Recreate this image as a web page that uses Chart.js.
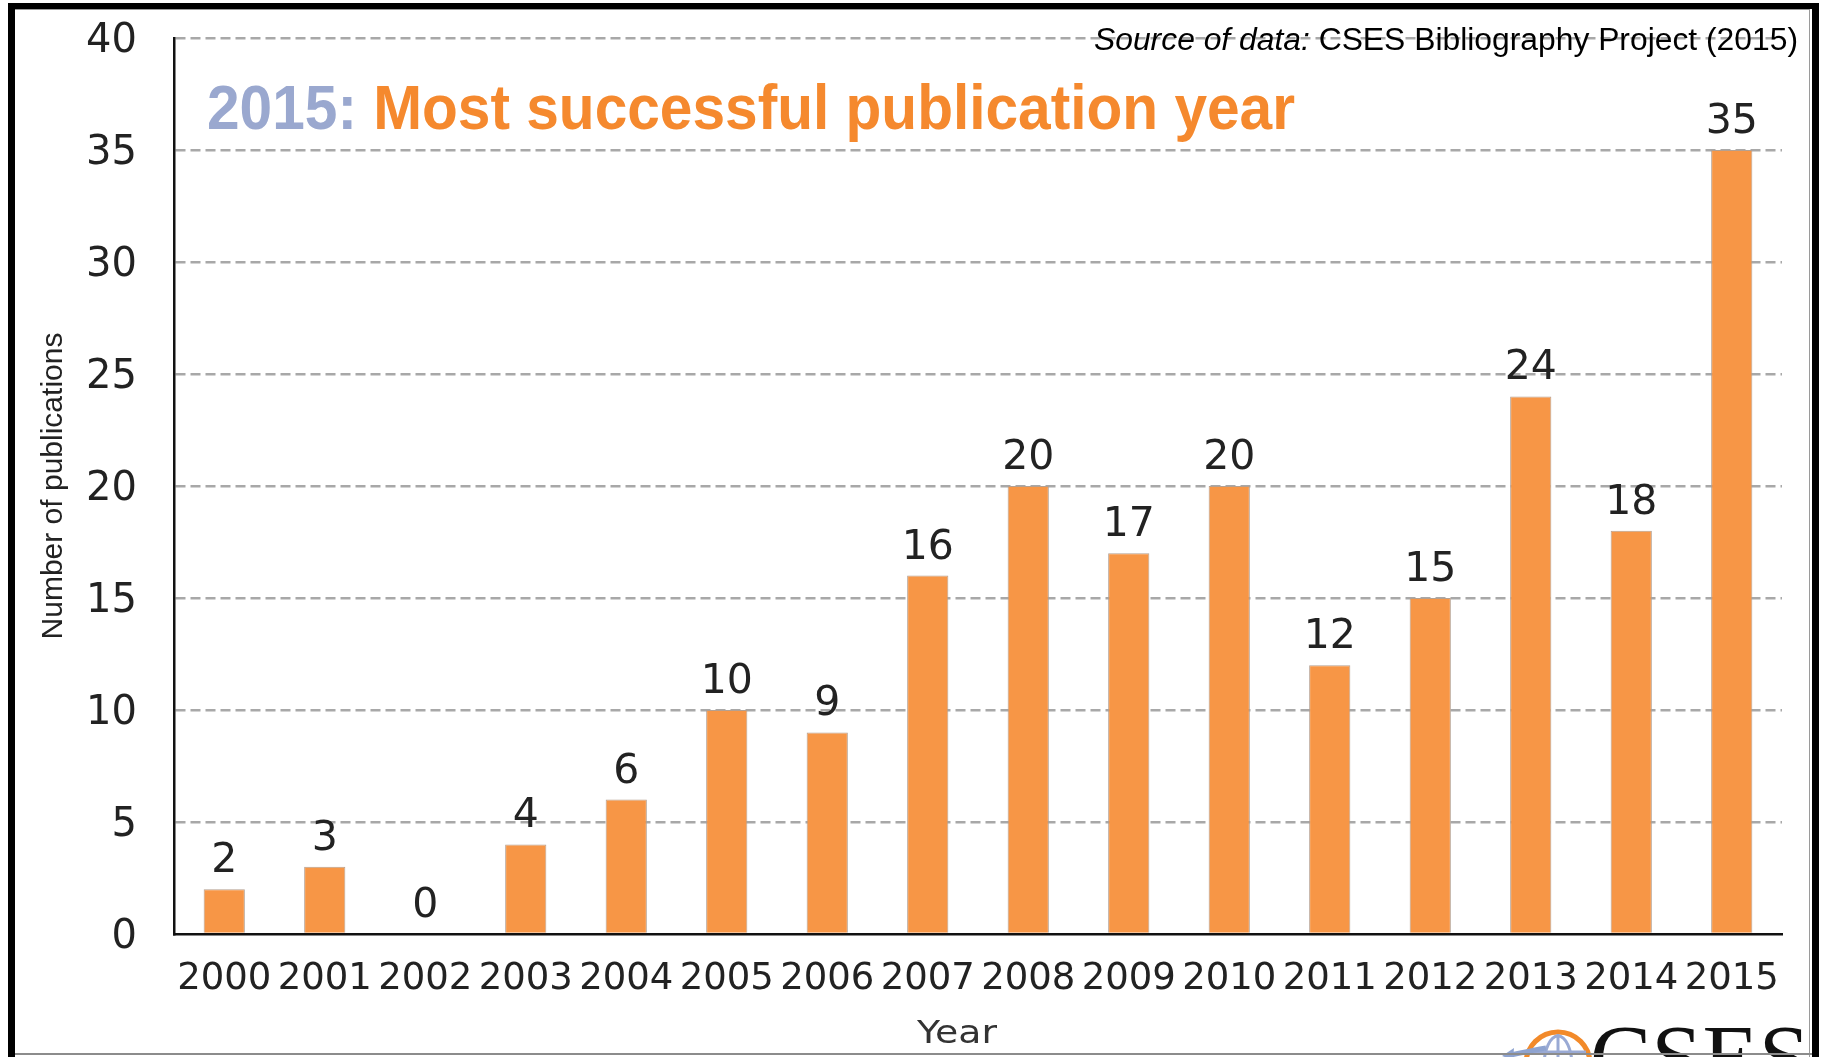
<!DOCTYPE html>
<html>
<head>
<meta charset="utf-8">
<title>CSES publications per year</title>
<script src="https://cdn.jsdelivr.net/npm/chart.js@4.4.1/dist/chart.umd.min.js"></script>
<style>
  html, body { margin: 0; padding: 0; background: #fff; }
  body { width: 1824px; height: 1057px; position: relative; overflow: hidden; }
  #chart { position: absolute; left: 0; top: 0; }
  .frame {
    position: absolute; left: 8px; top: 3px; width: 1797px; height: 1100px;
    border: 7px solid #000; border-top-width: 6px; border-bottom: none;
    pointer-events: none;
  }
  .frame-inner {
    position: absolute; left: 0; top: 0; right: 2px; bottom: 0;
    border-top: 1px solid #9a9a9a; border-right: 1px solid #9a9a9a;
  }
  .bottom-line { position: absolute; left: 15px; top: 1053px; width: 1797px; height: 2px; background: #8c8c8c; }
  .logo-text {
    position: absolute; left: 1590px; top: 1011px;
    font: 92px/1 "Liberation Serif", "Times New Roman", serif; color: #111;
  }
  .logo-globe { position: absolute; left: 1498px; top: 1022px; }
</style>
</head>
<body>
<canvas id="chart" width="1824" height="1057"></canvas>
<div class="frame"><div class="frame-inner"></div></div>
<svg class="logo-globe" width="100" height="40" viewBox="0 0 100 40">
  <circle cx="60" cy="42" r="32" fill="none" stroke="#f28a2a" stroke-width="5"/>
  <ellipse cx="60" cy="44" rx="14" ry="30" fill="none" stroke="#9aaad4" stroke-width="3"/>
  <line x1="60" y1="12" x2="60" y2="40" stroke="#9aaad4" stroke-width="3"/>
  <line x1="32" y1="30" x2="88" y2="30" stroke="#9aaad4" stroke-width="3"/>
  <path d="M48 26 C36 28 22 31 12 33" fill="none" stroke="#8ea3d0" stroke-width="5"/>
  <path d="M4 34 L16 26 L15 38 Z" fill="#8ea3d0"/>
</svg>
<div class="logo-text">CSES</div>
<div class="bottom-line"></div>

<script>
const years = ["2000", "2001", "2002", "2003", "2004", "2005", "2006", "2007",
               "2008", "2009", "2010", "2011", "2012", "2013", "2014", "2015"];
const publications = [2, 3, 0, 4, 6, 10, 9, 16, 20, 17, 20, 12, 15, 24, 18, 35];

const yMin = 0;
const yMax = 40;
const yStep = 5;

const titleLead = "2015:";
const titleMain = " Most successful publication year";
const sourceItalic = "Source of data:";
const sourceRest = " CSES Bibliography Project (2015)";
const xTitle = "Year";

const BAR_COLOR = "#f79646";

// value labels above each bar
const valueLabels = {
  id: "valueLabels",
  afterDatasetsDraw(chart) {
    const ctx = chart.ctx;
    const meta = chart.getDatasetMeta(0);
    ctx.save();
    ctx.font = '41px "DejaVu Sans", sans-serif';
    ctx.fillStyle = "#222";
    ctx.textAlign = "center";
    ctx.textBaseline = "alphabetic";
    meta.data.forEach((bar, i) => {
      ctx.fillText(String(publications[i]), bar.x, bar.y - 17);
    });
    ctx.restore();
  }
};

// y tick labels, centred on the digits rather than the em box
const yLabels = {
  id: "yLabels",
  afterDraw(chart) {
    const ctx = chart.ctx;
    const y = chart.scales.y;
    ctx.save();
    ctx.font = '40px "DejaVu Sans", sans-serif';
    ctx.fillStyle = "#222";
    ctx.textAlign = "right";
    ctx.textBaseline = "alphabetic";
    y.ticks.forEach((t) => {
      ctx.fillText(String(t.value), y.right - 37, y.getPixelForValue(t.value) + 14);
    });
    ctx.restore();
  }
};

// headline, source note, x axis title
const headline = {
  id: "headline",
  afterDraw(chart) {
    const ctx = chart.ctx;
    ctx.save();
    ctx.font = 'bold 63px "Liberation Sans", Arial, sans-serif';
    const w1 = ctx.measureText(titleLead).width;
    const w2 = ctx.measureText(titleMain).width;
    ctx.translate(207, 129);
    ctx.scale(1088 / (w1 + w2), 1);
    ctx.fillStyle = "#9aa8cf";
    ctx.fillText(titleLead, 0, 0);
    ctx.fillStyle = "#f5892e";
    ctx.fillText(titleMain, w1, 0);
    ctx.restore();

    ctx.save();
    ctx.font = 'italic 31px "Liberation Sans", Arial, sans-serif';
    const s1 = ctx.measureText(sourceItalic).width;
    ctx.font = '31px "Liberation Sans", Arial, sans-serif';
    const s2 = ctx.measureText(sourceRest).width;
    const sx = 704 / (s1 + s2);
    ctx.translate(1798 - 704, 50);
    ctx.scale(sx, 1);
    ctx.fillStyle = "#000";
    ctx.font = 'italic 31px "Liberation Sans", Arial, sans-serif';
    ctx.fillText(sourceItalic, 0, 0);
    ctx.font = '31px "Liberation Sans", Arial, sans-serif';
    ctx.fillText(sourceRest, s1, 0);
    ctx.restore();

    ctx.save();
    ctx.font = '32px "DejaVu Sans", sans-serif';
    ctx.fillStyle = "#333";
    ctx.textAlign = "center";
    ctx.translate(957, 1043);
    ctx.scale(1.18, 1);
    ctx.fillText(xTitle, 0, 0);
    ctx.restore();
  }
};

new Chart(document.getElementById("chart"), {
  type: "bar",
  data: {
    labels: years,
    datasets: [{
      data: publications,
      backgroundColor: BAR_COLOR,
      borderColor: "#b5a090",
      borderWidth: 1,
      barPercentage: 0.41,
      categoryPercentage: 1.0
    }]
  },
  options: {
    responsive: false,
    animation: false,
    layout: { padding: { top: 38, right: 42, left: 0, bottom: 0 } },
    plugins: {
      legend: { display: false },
      tooltip: { enabled: false }
    },
    scales: {
      x: {
        grid: { display: false },
        border: { display: true, color: "#111", width: 2.5, z: 1 },
        ticks: {
          color: "#222",
          font: { family: "DejaVu Sans", size: 37 },
          padding: 15,
          maxRotation: 0,
          autoSkip: false
        },
        title: { display: false },
        afterFit(scale) { scale.height = 123; }
      },
      y: {
        min: yMin,
        max: yMax,
        ticks: { stepSize: yStep, display: false },
        grid: {
          color: (c) => (c.tick && c.tick.value === 0 ? "rgba(0,0,0,0)" : "#a8a8a8"),
          lineWidth: 2.5,
          drawTicks: false
        },
        border: { display: true, color: "#111", width: 2.5, dash: [10, 5] },
        title: {
          display: true,
          text: "Number of publications",
          color: "#222",
          font: { family: "Liberation Sans", size: 30 },
          padding: { top: 36, bottom: 0 }
        },
        afterFit(scale) {
          scale.width = 174;
          scale.paddingTop = 0;
          scale.paddingBottom = 0;
        }
      }
    }
  },
  plugins: [valueLabels, yLabels, headline]
});
</script>
</body>
</html>
